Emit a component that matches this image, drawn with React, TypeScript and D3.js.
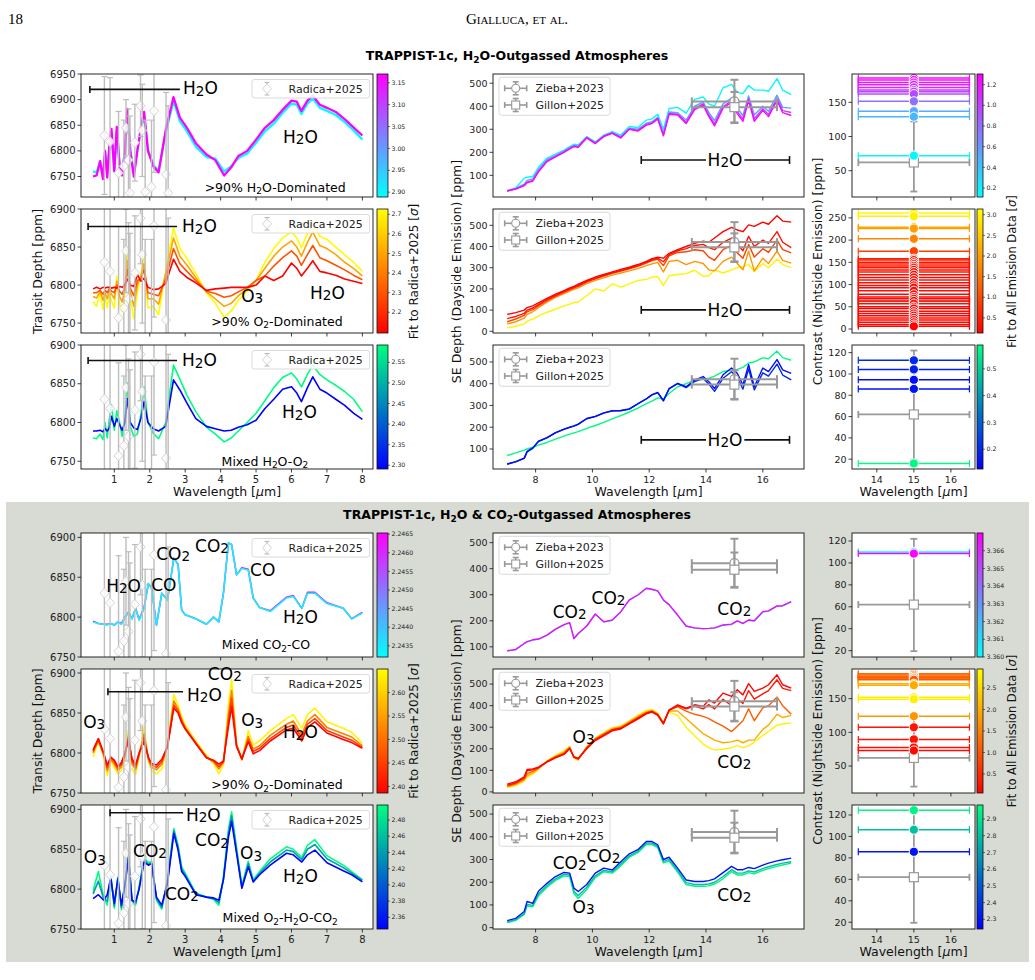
import React from 'react'
import * as d3 from 'd3'

// ---------- wavelength grids ----------
const transitWlTop = [0.40, 0.50, 0.60, 0.68, 0.74, 0.80, 0.86, 0.92, 1.00, 1.07, 1.15, 1.22, 1.30, 1.37, 1.45, 1.55, 1.65, 1.75, 1.84, 1.95, 2.10, 2.25, 2.45, 2.67, 2.85, 3.05, 3.30, 3.60, 3.85, 4.10, 4.30, 4.50, 4.75, 5.00, 5.25, 5.50, 5.75, 6.00, 6.15, 6.28, 6.45, 6.60, 6.80, 7.00, 7.25, 7.50, 7.75, 8.00]
const transitWlBot = [0.40, 0.55, 0.70, 0.80, 0.90, 1.00, 1.10, 1.20, 1.30, 1.40, 1.50, 1.60, 1.70, 1.84, 1.96, 2.05, 2.19, 2.34, 2.50, 2.68, 2.80, 2.90, 3.00, 3.30, 3.60, 3.80, 3.95, 4.08, 4.22, 4.31, 4.45, 4.60, 4.78, 4.92, 5.10, 5.40, 5.86, 6.05, 6.29, 6.45, 6.66, 7.00, 7.46, 7.70, 8.00]
const emissionWl = [7.0, 7.3, 7.6, 7.7, 7.9, 8.1, 8.4, 8.7, 9.0, 9.2, 9.35, 9.5, 9.8, 10.1, 10.4, 10.7, 11.0, 11.3, 11.6, 11.9, 12.1, 12.3, 12.5, 12.7, 13.0, 13.3, 13.6, 13.9, 14.1, 14.3, 14.6, 14.9, 15.1, 15.3, 15.5, 15.7, 16.0, 16.2, 16.5, 16.7, 17.0]

// ---------- observations ----------
const radicaWl = [0.72, 0.88, 1.12, 1.27, 1.33, 1.40, 1.44, 1.58, 1.74, 1.79, 1.87, 2.05, 2.12, 2.46, 2.52]
const radicaDepth = [6830, 6818, 6757, 6770, 6845, 6782, 6718, 6816, 6888, 6840, 6720, 6730, 6878, 6754, 6718]
const radicaErr = [115, 125, 120, 90, 55, 100, 150, 75, 60, 90, 140, 130, 120, 160, 170]

const eclipseLabels = ['Zieba+2023', 'Gillon+2025']
const eclipseWl = [15, 15]
const eclipseDepth = [421, 396]
const eclipseErr = [94, 66]
const eclipseWlErr = [1.5, 1.5]

const nightObsWl = 15
const nightObsContrast = 62
const nightObsErrLow = 42.5
const nightObsErrHigh = 60
const nightWlErr = 1.5

// ---------- top section: transit models ----------
const tH2oSigma = [2.89, 3.17]
const tH2oCyan = [6760, 6758, 6778, 6752, 6795, 6755, 6805, 6835, 6765, 6840, 6772, 6757, 6800, 6875, 6802, 6755, 6802, 6840, 6870, 6802, 6772, 6762, 6835, 6898, 6858, 6838, 6808, 6788, 6785, 6760, 6770, 6786, 6795, 6816, 6838, 6853, 6874, 6892, 6890, 6872, 6892, 6902, 6884, 6878, 6870, 6856, 6840, 6822]
const tH2oMagenta = [6750, 6752, 6780, 6745, 6800, 6748, 6810, 6843, 6760, 6847, 6770, 6752, 6800, 6882, 6800, 6750, 6800, 6845, 6876, 6800, 6770, 6758, 6840, 6905, 6865, 6845, 6815, 6793, 6782, 6752, 6768, 6790, 6800, 6822, 6845, 6860, 6880, 6898, 6896, 6878, 6898, 6908, 6890, 6884, 6876, 6862, 6846, 6830]

const tO2Sigma = [2.72, 2.50, 2.30, 2.10]
const tO2Yellow = [6778, 6772, 6790, 6768, 6785, 6770, 6790, 6779, 6770, 6812, 6775, 6765, 6790, 6847, 6785, 6756, 6790, 6815, 6836, 6770, 6772, 6761, 6820, 6875, 6848, 6835, 6815, 6790, 6776, 6758, 6766, 6780, 6792, 6806, 6830, 6848, 6862, 6870, 6862, 6849, 6868, 6884, 6864, 6860, 6850, 6840, 6830, 6818]
const tO2Orange = [6785, 6783, 6792, 6780, 6790, 6782, 6793, 6788, 6782, 6805, 6785, 6778, 6795, 6832, 6792, 6772, 6800, 6812, 6828, 6782, 6782, 6775, 6815, 6862, 6838, 6826, 6810, 6791, 6782, 6772, 6776, 6786, 6795, 6806, 6822, 6838, 6850, 6858, 6850, 6838, 6856, 6870, 6852, 6848, 6840, 6830, 6822, 6812]
const tO2RedOrange = [6790, 6790, 6793, 6788, 6793, 6790, 6795, 6792, 6790, 6800, 6792, 6788, 6797, 6820, 6796, 6786, 6806, 6808, 6820, 6790, 6788, 6786, 6808, 6848, 6828, 6818, 6806, 6792, 6789, 6784, 6786, 6791, 6797, 6806, 6812, 6825, 6836, 6845, 6838, 6826, 6840, 6852, 6836, 6832, 6826, 6820, 6813, 6807]
const tO2Red = [6795, 6797, 6795, 6797, 6796, 6797, 6797, 6796, 6797, 6796, 6798, 6797, 6800, 6808, 6800, 6798, 6814, 6805, 6809, 6797, 6794, 6795, 6802, 6834, 6818, 6810, 6803, 6793, 6795, 6796, 6797, 6797, 6797, 6800, 6812, 6806, 6812, 6829, 6822, 6812, 6822, 6832, 6818, 6816, 6813, 6808, 6805, 6802]

const tMixSigma = [2.59, 2.29]
const tMixGreen = [6780, 6779, 6785, 6778, 6800, 6780, 6805, 6823, 6790, 6815, 6800, 6782, 6805, 6851, 6795, 6782, 6785, 6810, 6846, 6800, 6786, 6779, 6800, 6874, 6856, 6835, 6814, 6794, 6785, 6775, 6780, 6789, 6800, 6812, 6828, 6845, 6858, 6864, 6856, 6846, 6862, 6874, 6862, 6855, 6848, 6840, 6830, 6814]
const tMixBlue = [6789, 6789, 6790, 6788, 6792, 6789, 6793, 6808, 6795, 6805, 6797, 6790, 6800, 6831, 6800, 6793, 6791, 6805, 6827, 6800, 6792, 6789, 6795, 6855, 6842, 6825, 6805, 6795, 6792, 6789, 6790, 6794, 6797, 6803, 6818, 6830, 6843, 6846, 6838, 6827, 6845, 6859, 6843, 6838, 6830, 6822, 6812, 6804]

// ---------- bottom section: transit models ----------
const bCoSigma = [2.2465, 2.2433]
const bCoMagenta = [6795, 6792, 6791, 6791, 6792, 6790, 6794, 6792, 6800, 6806, 6798, 6811, 6797, 6812, 6842, 6837, 6790, 6830, 6822, 6874, 6866, 6809, 6803, 6798, 6791, 6800, 6794, 6830, 6893, 6891, 6853, 6862, 6860, 6824, 6812, 6808, 6825, 6827, 6811, 6831, 6831, 6818, 6811, 6798, 6806]
const bCoCyan = [6794, 6792, 6791, 6790, 6792, 6790, 6794, 6791, 6800, 6805, 6798, 6811, 6796, 6811, 6842, 6836, 6790, 6830, 6821, 6874, 6866, 6809, 6803, 6798, 6791, 6800, 6794, 6830, 6893, 6891, 6853, 6861, 6859, 6824, 6812, 6807, 6824, 6826, 6811, 6830, 6830, 6817, 6811, 6798, 6805]

const bO2Sigma = [2.64, 2.52, 2.45, 2.39]
const bO2Yellow = [6795, 6814, 6795, 6772, 6790, 6782, 6774, 6778, 6795, 6829, 6780, 6773, 6795, 6833, 6790, 6778, 6774, 6780, 6810, 6873, 6860, 6846, 6835, 6815, 6797, 6787, 6774, 6785, 6860, 6892, 6812, 6791, 6828, 6810, 6815, 6828, 6843, 6848, 6831, 6848, 6856, 6839, 6831, 6826, 6812]
const bO2Orange = [6800, 6816, 6798, 6778, 6792, 6786, 6778, 6783, 6797, 6822, 6787, 6779, 6797, 6824, 6792, 6782, 6779, 6786, 6809, 6865, 6855, 6842, 6832, 6813, 6795, 6789, 6780, 6788, 6848, 6878, 6810, 6792, 6821, 6805, 6809, 6822, 6836, 6840, 6823, 6840, 6848, 6832, 6824, 6820, 6809]
const bO2RedOrange = [6802, 6817, 6799, 6782, 6794, 6789, 6781, 6786, 6799, 6819, 6790, 6782, 6799, 6819, 6794, 6785, 6782, 6789, 6808, 6860, 6852, 6840, 6831, 6812, 6794, 6790, 6783, 6789, 6840, 6868, 6809, 6792, 6817, 6802, 6806, 6818, 6832, 6835, 6819, 6836, 6843, 6828, 6820, 6816, 6807]
const bO2Red = [6804, 6818, 6800, 6785, 6795, 6791, 6783, 6788, 6800, 6816, 6793, 6785, 6800, 6814, 6795, 6787, 6785, 6792, 6808, 6856, 6850, 6838, 6830, 6812, 6794, 6791, 6786, 6790, 6833, 6858, 6808, 6793, 6814, 6799, 6803, 6815, 6829, 6831, 6815, 6832, 6839, 6825, 6817, 6813, 6806]

const bMixSigma = [2.50, 2.44, 2.35]
const bMixGreen = [6798, 6822, 6790, 6780, 6818, 6776, 6815, 6774, 6808, 6843, 6783, 6780, 6803, 6840, 6833, 6835, 6786, 6775, 6812, 6876, 6855, 6828, 6820, 6795, 6790, 6787, 6780, 6815, 6875, 6897, 6852, 6804, 6835, 6812, 6822, 6838, 6853, 6850, 6840, 6855, 6862, 6842, 6830, 6822, 6812]
const bMixTeal = [6794, 6810, 6788, 6785, 6816, 6779, 6814, 6777, 6806, 6841, 6785, 6782, 6801, 6837, 6831, 6833, 6788, 6777, 6810, 6873, 6852, 6825, 6818, 6794, 6790, 6788, 6783, 6813, 6870, 6892, 6848, 6803, 6832, 6810, 6820, 6834, 6849, 6847, 6837, 6850, 6856, 6838, 6827, 6820, 6811]
const bMixBlue = [6788, 6793, 6786, 6793, 6814, 6782, 6813, 6780, 6805, 6839, 6786, 6784, 6800, 6834, 6830, 6832, 6790, 6780, 6807, 6870, 6849, 6822, 6816, 6793, 6790, 6789, 6786, 6812, 6865, 6885, 6845, 6801, 6828, 6809, 6818, 6830, 6845, 6843, 6834, 6843, 6849, 6833, 6823, 6818, 6809]

// ---------- top section: dayside emission models ----------
const eH2oSigma = [0.15, 0.55, 1.0, 1.28]
const eH2oCyan = [33, 45, 88, 92, 95, 135, 175, 192, 210, 225, 235, 232, 268, 245, 275, 290, 275, 312, 308, 340, 345, 365, 300, 390, 395, 370, 430, 440, 410, 400, 480, 495, 460, 455, 490, 470, 470, 465, 520, 470, 450]
const eH2oBlue = [33, 43, 62, 78, 85, 125, 168, 186, 205, 220, 230, 226, 266, 242, 272, 286, 268, 305, 300, 326, 333, 352, 282, 375, 372, 340, 400, 418, 372, 338, 410, 436, 392, 360, 445, 362, 400, 378, 448, 395, 392]
const eH2oPurple = [32, 41, 57, 70, 78, 118, 163, 182, 202, 217, 227, 224, 264, 240, 270, 284, 265, 302, 295, 321, 328, 348, 276, 369, 366, 331, 391, 410, 362, 324, 399, 425, 377, 345, 433, 346, 389, 364, 434, 381, 373]
const eH2oMagenta = [32, 40, 55, 68, 75, 115, 160, 180, 200, 215, 225, 222, 262, 238, 268, 282, 262, 300, 292, 318, 325, 345, 272, 365, 362, 325, 385, 405, 355, 315, 392, 418, 368, 335, 425, 335, 382, 355, 425, 372, 360]

const eO2Sigma = [3.0, 1.9, 0.9, 0.35, 0.15]
const eO2Yellow = [16, 24, 35, 48, 58, 72, 90, 104, 120, 128, 136, 138, 168, 200, 190, 224, 208, 224, 240, 245, 256, 258, 216, 262, 268, 272, 288, 260, 262, 290, 275, 290, 300, 305, 315, 282, 320, 300, 340, 315, 300]
const eO2Orange = [35, 45, 62, 80, 92, 112, 138, 160, 178, 190, 198, 205, 225, 240, 252, 265, 275, 285, 296, 310, 318, 325, 280, 330, 335, 315, 330, 320, 290, 285, 330, 350, 320, 290, 378, 285, 345, 320, 378, 335, 322]
const eO2RedOrange = [45, 58, 75, 92, 102, 120, 145, 165, 184, 196, 204, 212, 232, 247, 260, 273, 284, 295, 306, 322, 334, 340, 310, 356, 372, 375, 385, 380, 350, 335, 385, 405, 370, 345, 410, 350, 390, 372, 430, 385, 370]
const eO2Red2 = [60, 70, 85, 100, 110, 126, 150, 170, 188, 200, 208, 216, 236, 250, 263, 276, 287, 298, 310, 326, 338, 345, 328, 362, 380, 390, 405, 410, 395, 385, 420, 440, 410, 380, 448, 400, 430, 415, 470, 420, 395]
const eO2Red = [80, 88, 100, 112, 120, 134, 155, 175, 192, 205, 212, 222, 240, 256, 268, 280, 292, 302, 315, 330, 343, 350, 345, 368, 385, 400, 415, 425, 420, 440, 470, 490, 478, 470, 502, 495, 515, 505, 545, 520, 515]

const eMixSigma = [0.58, 0.2, 0.15]
const eMixGreen = [70, 82, 95, 100, 108, 118, 130, 145, 159, 168, 174, 180, 195, 208, 222, 238, 253, 270, 288, 308, 320, 335, 330, 355, 386, 400, 417, 420, 425, 435, 456, 462, 466, 475, 495, 500, 519, 515, 550, 520, 508]
const eMixBlue2 = [30, 41, 57, 86, 103, 134, 151, 174, 190, 199, 205, 213, 239, 249, 265, 275, 276, 283, 307, 330, 349, 358, 321, 376, 400, 382, 410, 425, 398, 365, 425, 455, 430, 375, 468, 372, 450, 435, 490, 440, 418]
const eMixBlue = [31, 42, 58, 89, 105, 136, 152, 175, 191, 200, 206, 214, 240, 250, 266, 276, 277, 284, 308, 331, 350, 360, 323, 378, 402, 386, 417, 433, 409, 378, 441, 472, 448, 394, 488, 386, 472, 456, 511, 464, 448]

// ---------- bottom section: dayside emission models ----------
const fCoSigma = [3.3601, 3.3669]
const fCoCyan = [84, 89, 112, 119, 126, 129, 144, 167, 184, 192, 131, 150, 179, 225, 195, 202, 234, 279, 298, 324, 320, 314, 279, 261, 221, 179, 172, 169, 170, 172, 183, 186, 199, 189, 202, 199, 234, 237, 256, 257, 273]
const fCoMagenta = [85, 90, 113, 120, 127, 130, 145, 168, 185, 193, 132, 151, 180, 226, 196, 203, 235, 280, 299, 325, 321, 315, 280, 262, 222, 180, 173, 170, 171, 173, 184, 187, 200, 190, 203, 200, 235, 238, 257, 258, 274]

const fO2Sigma = [2.8, 2.0, 1.1, 0.3, 0.1]
const fO2Yellow = [20, 30, 50, 68, 82, 105, 145, 170, 190, 212, 158, 148, 210, 250, 275, 298, 306, 330, 355, 378, 382, 365, 322, 370, 355, 300, 260, 222, 205, 195, 198, 205, 215, 205, 215, 230, 262, 280, 310, 315, 320]
const fO2LightOrange = [24, 34, 55, 75, 88, 108, 142, 165, 185, 208, 158, 150, 208, 248, 272, 294, 302, 326, 350, 372, 378, 362, 320, 375, 375, 340, 305, 270, 255, 240, 228, 232, 240, 228, 240, 240, 290, 310, 360, 345, 355]
const fO2Orange = [28, 38, 60, 85, 95, 110, 140, 162, 180, 205, 160, 152, 205, 245, 268, 290, 298, 322, 345, 368, 375, 360, 318, 380, 395, 375, 360, 350, 340, 325, 305, 280, 305, 330, 385, 330, 390, 400, 440, 400, 360]
const fO2Red2 = [30, 42, 66, 98, 103, 112, 138, 158, 174, 200, 162, 154, 200, 238, 260, 283, 292, 315, 338, 362, 370, 355, 315, 378, 400, 385, 398, 385, 405, 385, 430, 400, 430, 410, 470, 430, 455, 470, 520, 480, 470]
const fO2Red = [36, 47, 70, 104, 107, 115, 140, 160, 175, 202, 163, 155, 202, 241, 264, 287, 295, 318, 342, 365, 373, 357, 318, 380, 404, 388, 404, 396, 427, 412, 458, 443, 474, 450, 502, 466, 481, 497, 543, 497, 481]

const fMixSigma = [2.95, 2.8, 2.3]
const fMixGreen = [22, 32, 58, 95, 92, 140, 178, 208, 228, 225, 150, 128, 168, 220, 246, 240, 272, 310, 330, 366, 366, 352, 285, 293, 245, 190, 182, 182, 184, 192, 215, 247, 232, 232, 242, 237, 252, 260, 270, 276, 284]
const fMixTeal = [25, 35, 62, 102, 98, 148, 185, 215, 235, 232, 160, 140, 178, 228, 252, 246, 280, 316, 336, 372, 372, 358, 292, 300, 252, 198, 190, 190, 192, 200, 225, 255, 240, 240, 250, 245, 260, 268, 278, 284, 290]
const fMixBlue = [31, 41, 71, 115, 107, 160, 195, 225, 243, 240, 174, 159, 190, 240, 262, 254, 290, 325, 343, 379, 379, 365, 300, 310, 262, 210, 203, 203, 207, 215, 242, 270, 255, 255, 265, 260, 275, 284, 294, 299, 306]

// ---------- nightside contrast models ----------
const nH2oPpm = [185.4, 182.5, 179, 175.7, 171.8, 168, 165.5, 162, 151.5, 137, 129, 72]
const nH2oSigma = [1.28, 1.25, 1.2, 1.15, 1.1, 1.05, 1.0, 0.95, 0.78, 0.5, 0.45, 0.15]
const nO2Ppm = [261, 253.6, 229, 226, 203, 175, 158, 155, 150, 146, 142, 138, 133, 128, 122, 116, 110, 104, 98, 93, 86, 78, 72, 68, 63, 57, 50, 46, 40, 35, 30, 25, 20, 15, 10, 6]
const nO2Sigma = [3.05, 2.95, 2.1, 2.0, 1.7, 0.9, 0.45, 0.4, 0.35, 0.5, 0.3, 0.4, 0.25, 0.35, 0.3, 0.2, 0.3, 0.25, 0.2, 0.15, 0.3, 0.2, 0.15, 0.25, 0.2, 0.3, 0.2, 0.15, 0.25, 0.2, 0.15, 0.3, 0.2, 0.25, 0.2, 0.15]
const nMixPpm = [112.8, 104.3, 94.5, 86, 16]
const nMixSigma = [0.2, 0.18, 0.15, 0.16, 0.58]

const mCoPpm = [110, 108.5]
const mCoSigma = [3.3601, 3.3669]
const mO2Ppm = [187, 185, 183, 181, 180, 178, 172, 170, 152, 149, 124, 107.5, 89.5, 77.5, 73]
const mO2Sigma = [1.25, 1.15, 1.2, 1.1, 1.3, 1.05, 2.05, 2.0, 2.75, 2.8, 1.75, 0.3, 0.25, 0.2, 0.15]
const mMixPpm = [124.4, 106.3, 85.7]
const mMixSigma = [2.95, 2.8, 2.3]

// ---------- colour bar ticks ----------
const cbT1 = [2.90, 2.95, 3.00, 3.05, 3.10, 3.15]
const cbT2 = [2.2, 2.3, 2.4, 2.5, 2.6, 2.7]
const cbT3 = [2.30, 2.35, 2.40, 2.45, 2.50, 2.55]
const cbN1 = [0.2, 0.4, 0.6, 0.8, 1.0, 1.2]
const cbN2 = [0.5, 1.0, 1.5, 2.0, 2.5, 3.0]
const cbN3 = [0.2, 0.3, 0.4, 0.5]
const cbB1 = [2.2435, 2.2440, 2.2445, 2.2450, 2.2455, 2.2460, 2.2465]
const cbB2 = [2.40, 2.45, 2.50, 2.55, 2.60]
const cbB3 = [2.36, 2.38, 2.40, 2.42, 2.44, 2.46, 2.48]
const cbM1 = [3.360, 3.361, 3.362, 3.363, 3.364, 3.365, 3.366]
const cbM2 = [0.5, 1.0, 1.5, 2.0, 2.5]
const cbM3 = [2.3, 2.4, 2.5, 2.6, 2.7, 2.8, 2.9]

// ---------- layout ----------
const C1 = { x0: 81, x1: 373 }
const CB1 = { x0: 377, x1: 388 }
const C2 = { x0: 493, x1: 804 }
const C3 = { x0: 852, x1: 975 }
const CB3 = { x0: 977, x1: 983 }
const topRows = [[74, 197], [209, 333], [345, 469]]
const botRows = [[533, 657], [669, 793], [805, 929]]

const cool = (t: number) => d3.rgb(255 * t, 255 * (1 - t), 255).toString()
const autumn = (t: number) => d3.rgb(255, 255 * t, 0).toString()
const winter = (t: number) => d3.rgb(0, 255 * t, 255 * (1 - 0.5 * t)).toString()

const GREY = '#999'
const LIGHT = '#bdbdbd'

function Chem({ text, x, y, size, anchor = 'start', weight = 400, shift = 0.2, scale = 0.72 }: any) {
  const parts = text.split(/(_[0-9])/).filter((s: string) => s.length > 0)
  let down = false
  const spans = parts.map((p: string, i: number) => {
    if (p[0] === '_') {
      down = true
      return <tspan key={i} fontSize={size * scale} dy={size * shift}>{p.slice(1)}</tspan>
    }
    const dy = down ? -size * shift : 0
    down = false
    return <tspan key={i} dy={dy}>{p}</tspan>
  })
  return (
    <text x={x} y={y + size * 0.35} fontSize={size} textAnchor={anchor} fontWeight={weight}>
      {spans}
    </text>
  )
}

function Axes({ id, x0, x1, y0, y1, xs, ys, xTicks, yTicks, showX, fs, children }: any) {
  return (
    <g>
      <rect x={x0} y={y0} width={x1 - x0} height={y1 - y0} fill="#fff" />
      <clipPath id={id}>
        <rect x={x0} y={y0} width={x1 - x0} height={y1 - y0} />
      </clipPath>
      <g clipPath={`url(#${id})`}>{children}</g>
      <rect x={x0} y={y0} width={x1 - x0} height={y1 - y0} fill="none" stroke="#111" strokeWidth={0.9} />
      {yTicks.map((t: number) => (
        <g key={'y' + t}>
          <line x1={x0 - 3.5} x2={x0} y1={ys(t)} y2={ys(t)} stroke="#111" strokeWidth={0.8} />
          <text x={x0 - 5.5} y={ys(t)} dy="0.35em" textAnchor="end" fontSize={fs} fill="#222">{t}</text>
        </g>
      ))}
      {xTicks.map((t: number) => (
        <g key={'x' + t}>
          <line x1={xs(t)} x2={xs(t)} y1={y1} y2={y1 + 3.5} stroke="#111" strokeWidth={0.8} />
          {showX && <text x={xs(t)} y={y1 + 6} dy="0.8em" textAnchor="middle" fontSize={fs} fill="#222">{t}</text>}
        </g>
      ))}
    </g>
  )
}

function Colorbar({ id, x0, x1, y0, y1, domain, ticks, digits, cmap }: any) {
  const ys = d3.scaleLinear().domain(domain).range([y1, y0])
  const stops = d3.range(0, 11).map(i => i / 10)
  return (
    <g>
      <linearGradient id={id} x1="0" y1="1" x2="0" y2="0">
        {stops.map(s => <stop key={s} offset={s} stopColor={cmap(s)} />)}
      </linearGradient>
      <rect x={x0} y={y0} width={x1 - x0} height={y1 - y0} fill={`url(#${id})`} stroke="#111" strokeWidth={0.8} />
      {ticks.map((t: number) => (
        <g key={t}>
          <line x1={x1} x2={x1 + 2} y1={ys(t)} y2={ys(t)} stroke="#111" strokeWidth={0.6} />
          <text x={x1 + 3.5} y={ys(t)} dy="0.35em" fontSize={6.2} fill="#222">{t.toFixed(digits)}</text>
        </g>
      ))}
    </g>
  )
}

function TransitPanel({ id, rows, yDomain, yTicks, wl, series, sigmas, cmap, cb, cbTicks, cbDigits, showX, labels, bar, caption, lw = 1.6 }: any) {
  const [y0, y1] = rows
  const xs = d3.scaleLinear().domain([0.06, 8.3]).range([C1.x0, C1.x1])
  const ys = d3.scaleLinear().domain(yDomain).range([y1, y0])
  const cn = d3.scaleLinear().domain(cb).range([0, 1]).clamp(true)
  const line = d3.line<number>().x((_, i) => xs(wl[i])).y(v => ys(v))
  const lx = C1.x1 - 121
  const ly = y0 + 5.5
  return (
    <g>
      <Axes id={id} x0={C1.x0} x1={C1.x1} y0={y0} y1={y1} xs={xs} ys={ys} xTicks={d3.range(1, 9)} yTicks={yTicks} showX={showX} fs={10}>
        {series.map((s: number[], i: number) => (
          <path key={i} d={line(s) || ''} fill="none" stroke={cmap(cn(sigmas[i]))} strokeWidth={lw} strokeLinejoin="round" />
        ))}
        {radicaWl.map((w, i) => {
          const cx = xs(w)
          const top = ys(radicaDepth[i] + radicaErr[i])
          const bot = ys(radicaDepth[i] - radicaErr[i])
          const cy = ys(radicaDepth[i])
          return (
            <g key={'r' + i}>
              <line x1={cx} x2={cx} y1={top} y2={bot} stroke={LIGHT} strokeWidth={1.4} />
              <line x1={cx - 3} x2={cx + 3} y1={top} y2={top} stroke={LIGHT} strokeWidth={1.2} />
              <line x1={cx - 3} x2={cx + 3} y1={bot} y2={bot} stroke={LIGHT} strokeWidth={1.2} />
              <path d={`M${cx},${cy - 5}L${cx + 4.5},${cy}L${cx},${cy + 5}L${cx - 4.5},${cy}Z`} fill="#fff" fillOpacity={0.85} stroke="#d4d4d4" strokeWidth={1} />
            </g>
          )
        })}
      </Axes>
      {bar && (
        <g stroke="#111" strokeWidth={1.6}>
          <line x1={xs(bar[0])} x2={xs(bar[1])} y1={ys(bar[2])} y2={ys(bar[2])} />
          <line x1={xs(bar[0])} x2={xs(bar[0])} y1={ys(bar[2]) - 3.5} y2={ys(bar[2]) + 3.5} />
        </g>
      )}
      {labels.map((l: any, i: number) => (
        <Chem key={i} text={l[2]} x={xs(l[0])} y={ys(l[1])} size={17} shift={0.08} scale={0.8} />
      ))}
      <Chem text={caption[2]} x={xs(caption[0])} y={ys(caption[1])} size={12.5} anchor="middle" />
      <rect x={lx} y={ly} width={117.6} height={18.5} rx={2.5} fill="#fff" fillOpacity={0.85} stroke="#d0d0d0" strokeWidth={0.8} />
      <g>
        <line x1={lx + 15} x2={lx + 15} y1={ly + 3} y2={ly + 15.5} stroke={LIGHT} strokeWidth={1.3} />
        <line x1={lx + 12.5} x2={lx + 17.5} y1={ly + 3} y2={ly + 3} stroke={LIGHT} strokeWidth={1.1} />
        <line x1={lx + 12.5} x2={lx + 17.5} y1={ly + 15.5} y2={ly + 15.5} stroke={LIGHT} strokeWidth={1.1} />
        <path d={`M${lx + 15},${ly + 4.3}L${lx + 19.5},${ly + 9.3}L${lx + 15},${ly + 14.3}L${lx + 10.5},${ly + 9.3}Z`} fill="#fff" stroke="#d4d4d4" strokeWidth={1} />
        <text x={lx + 36.5} y={ly + 9.3} dy="0.35em" fontSize={11} fill="#222">Radica+2025</text>
      </g>
      <Colorbar id={id + 'cb'} x0={CB1.x0} x1={CB1.x1} y0={y0} y1={y1} domain={cb} ticks={cbTicks} digits={cbDigits} cmap={cmap} />
    </g>
  )
}

function EmissionPanel({ id, rows, yDomain, yTicks, series, sigmas, cmap, cb, showX, labels, h2oBar }: any) {
  const [y0, y1] = rows
  const xs = d3.scaleLinear().domain([6.5, 17.45]).range([C2.x0, C2.x1])
  const ys = d3.scaleLinear().domain(yDomain).range([y1, y0])
  const cn = d3.scaleLinear().domain(cb).range([0, 1]).clamp(true)
  const line = d3.line<number>().x((_, i) => xs(emissionWl[i])).y(v => ys(v))
  const lx = C2.x0 + 6
  const ly = y0 + 3.3
  return (
    <g>
      <Axes id={id} x0={C2.x0} x1={C2.x1} y0={y0} y1={y1} xs={xs} ys={ys} xTicks={[8, 10, 12, 14, 16]} yTicks={yTicks} showX={showX} fs={9.5}>
        {series.map((s: number[], i: number) => (
          <path key={i} d={line(s) || ''} fill="none" stroke={cmap(cn(sigmas[i]))} strokeWidth={1.4} strokeLinejoin="round" />
        ))}
        {eclipseWl.map((w, i) => {
          const cx = xs(w)
          const cy = ys(eclipseDepth[i])
          const xa = xs(w - eclipseWlErr[i])
          const xb = xs(w + eclipseWlErr[i])
          const ya = ys(eclipseDepth[i] + eclipseErr[i])
          const yb = ys(eclipseDepth[i] - eclipseErr[i])
          return (
            <g key={'e' + i} stroke={GREY} strokeWidth={2}>
              <line x1={xa} x2={xb} y1={cy} y2={cy} />
              <line x1={xa} x2={xa} y1={cy - 4} y2={cy + 4} />
              <line x1={xb} x2={xb} y1={cy - 4} y2={cy + 4} />
              <line x1={cx} x2={cx} y1={ya} y2={yb} />
              <line x1={cx - 4} x2={cx + 4} y1={ya} y2={ya} />
              <line x1={cx - 4} x2={cx + 4} y1={yb} y2={yb} />
              {i === 0
                ? <circle cx={cx} cy={cy} r={4.5} fill="#fff" strokeWidth={1.2} />
                : <rect x={cx - 4.5} y={cy - 4.5} width={9} height={9} fill="#fff" strokeWidth={1.2} />}
            </g>
          )
        })}
      </Axes>
      {h2oBar && (
        <g>
          <g stroke="#111" strokeWidth={1.6}>
            <line x1={xs(11.72)} x2={xs(14.0)} y1={ys(h2oBar)} y2={ys(h2oBar)} />
            <line x1={xs(15.35)} x2={xs(16.94)} y1={ys(h2oBar)} y2={ys(h2oBar)} />
            <line x1={xs(11.72)} x2={xs(11.72)} y1={ys(h2oBar) - 4} y2={ys(h2oBar) + 4} />
            <line x1={xs(16.94)} x2={xs(16.94)} y1={ys(h2oBar) - 4} y2={ys(h2oBar) + 4} />
          </g>
          <Chem text="H_2O" x={xs(14.67)} y={ys(h2oBar)} size={17} anchor="middle" shift={0.08} scale={0.8} />
        </g>
      )}
      {labels.map((l: any, i: number) => (
        <Chem key={i} text={l[2]} x={xs(l[0])} y={ys(l[1])} size={17} shift={0.08} scale={0.8} />
      ))}
      <rect x={lx} y={ly} width={111} height={38} rx={2.5} fill="#fff" fillOpacity={0.85} stroke="#d0d0d0" strokeWidth={0.8} />
      {eclipseLabels.map((lab, i) => {
        const cy = ly + 11 + i * 16.7
        const cx = lx + 16.7
        return (
          <g key={lab}>
            <g stroke={GREY} strokeWidth={1.6}>
              <line x1={cx - 11} x2={cx + 11} y1={cy} y2={cy} />
              <line x1={cx - 11} x2={cx - 11} y1={cy - 3} y2={cy + 3} />
              <line x1={cx + 11} x2={cx + 11} y1={cy - 3} y2={cy + 3} />
              <line x1={cx} x2={cx} y1={cy - 6.5} y2={cy + 6.5} />
              <line x1={cx - 3} x2={cx + 3} y1={cy - 6.5} y2={cy - 6.5} />
              <line x1={cx - 3} x2={cx + 3} y1={cy + 6.5} y2={cy + 6.5} />
              {i === 0
                ? <circle cx={cx} cy={cy} r={4} fill="#fff" strokeWidth={1.1} />
                : <rect x={cx - 4} y={cy - 4} width={8} height={8} fill="#fff" strokeWidth={1.1} />}
            </g>
            <text x={lx + 36.5} y={cy} dy="0.35em" fontSize={11} fill="#222">{lab}</text>
          </g>
        )
      })}
    </g>
  )
}

function NightPanel({ id, rows, yDomain, yTicks, ppm, sigmas, cmap, cb, cbTicks, cbDigits, showX }: any) {
  const [y0, y1] = rows
  const xs = d3.scaleLinear().domain([13.33, 16.65]).range([C3.x0, C3.x1])
  const ys = d3.scaleLinear().domain(yDomain).range([y1, y0])
  const cn = d3.scaleLinear().domain(cb).range([0, 1]).clamp(true)
  const xa = xs(nightObsWl - nightWlErr)
  const xb = xs(nightObsWl + nightWlErr)
  const cx = xs(nightObsWl)
  const oy = ys(nightObsContrast)
  const oTop = ys(nightObsContrast + nightObsErrHigh)
  const oBot = ys(nightObsContrast - nightObsErrLow)
  return (
    <g>
      <Axes id={id} x0={C3.x0} x1={C3.x1} y0={y0} y1={y1} xs={xs} ys={ys} xTicks={[14, 15, 16]} yTicks={yTicks} showX={showX} fs={9.5}>
        <g stroke={GREY} strokeWidth={1.8}>
          <line x1={xa} x2={xb} y1={oy} y2={oy} />
          <line x1={xa} x2={xa} y1={oy - 3.5} y2={oy + 3.5} />
          <line x1={xb} x2={xb} y1={oy - 3.5} y2={oy + 3.5} />
          <line x1={cx} x2={cx} y1={oTop} y2={oBot} />
          <line x1={cx - 3.5} x2={cx + 3.5} y1={oTop} y2={oTop} />
          <line x1={cx - 3.5} x2={cx + 3.5} y1={oBot} y2={oBot} />
          <rect x={cx - 4.5} y={oy - 4.5} width={9} height={9} fill="#fff" strokeWidth={1.2} />
        </g>
        {ppm.map((v: number, i: number) => {
          const c = cmap(cn(sigmas[i]))
          const y = ys(v)
          return (
            <g key={i}>
              <line x1={xa} x2={xb} y1={y} y2={y} stroke={c} strokeWidth={1.5} />
              <line x1={xa} x2={xa} y1={y - 3.5} y2={y + 3.5} stroke={c} strokeWidth={1.2} />
              <line x1={xb} x2={xb} y1={y - 3.5} y2={y + 3.5} stroke={c} strokeWidth={1.2} />
              <circle cx={cx} cy={y} r={4.6} fill={c} stroke="#fff" strokeWidth={1} />
            </g>
          )
        })}
      </Axes>
      <Colorbar id={id + 'cb'} x0={CB3.x0} x1={CB3.x1} y0={y0} y1={y1} domain={cb} ticks={cbTicks} digits={cbDigits} cmap={cmap} />
    </g>
  )
}

function Labels({ rows, bottomY }: any) {
  const mid = (rows[0][0] + rows[2][1]) / 2
  const rot = (x: number, txt: any, fs: number) => (
    <text transform={`translate(${x},${mid}) rotate(-90)`} textAnchor="middle" dy="0.35em" fontSize={fs} fill="#111">{txt}</text>
  )
  return (
    <g>
      {rot(38, 'Transit Depth [ppm]', 12.5)}
      {rot(414, <>Fit to Radica+2025 [<tspan fontStyle="italic">σ</tspan>]</>, 12)}
      {rot(457, 'SE Depth (Dayside Emission) [ppm]', 12.5)}
      {rot(818, 'Contrast (Nightside Emission) [ppm]', 12.5)}
      {rot(1012, <>Fit to All Emission Data [<tspan fontStyle="italic">σ</tspan>]</>, 11.5)}
      {[(C1.x0 + C1.x1) / 2, (C2.x0 + C2.x1) / 2, (C3.x0 + C3.x1) / 2].map(x => (
        <text key={x} x={x} y={bottomY} dy="0.35em" textAnchor="middle" fontSize={12.5} fill="#111">
          Wavelength [<tspan fontStyle="italic">μ</tspan>m]
        </text>
      ))}
    </g>
  )
}

export default function App() {
  return (
    <svg width={1035} height={980} style={{ position: 'absolute', left: 0, top: 0, background: '#fff' }} fontFamily="DejaVu Sans">
      <rect width={1035} height={980} fill="#fff" />
      <text x={8} y={24} fontSize={15} fontFamily="Liberation Serif">18</text>
      <text x={517} y={24} fontSize={15} fontFamily="Liberation Serif" textAnchor="middle" style={{ fontVariant: 'small-caps' }}>Gialluca, et al.</text>
      <rect x={6} y={502} width={1023} height={460} fill="#d7dbd4" />

      <Chem text="TRAPPIST-1c, H_2O-Outgassed Atmospheres" x={517} y={56} size={12.5} anchor="middle" weight={700} />
      <Chem text="TRAPPIST-1c, H_2O & CO_2-Outgassed Atmospheres" x={517} y={515} size={12.5} anchor="middle" weight={700} />

      {/* top section */}
      <TransitPanel id="t1" rows={topRows[0]} yDomain={[6710, 6950]} yTicks={[6750, 6800, 6850, 6900, 6950]} wl={transitWlTop}
        series={[tH2oCyan, tH2oMagenta]} sigmas={tH2oSigma} cmap={cool} cb={[2.889, 3.17]} cbTicks={cbT1} cbDigits={2} showX={false} lw={2.3}
        labels={[[2.94, 6922, 'H_2O'], [5.76, 6827, 'H_2O']]} bar={[0.31, 2.85, 6920]} caption={[5.54, 6729, '>90% H_2O-Dominated']} />
      <TransitPanel id="t2" rows={topRows[1]} yDomain={[6737, 6900]} yTicks={[6750, 6800, 6850, 6900]} wl={transitWlTop}
        series={[tO2Yellow, tO2Orange, tO2RedOrange, tO2Red]} sigmas={tO2Sigma} cmap={autumn} cb={[2.094, 2.727]} cbTicks={cbT2} cbDigits={1} showX={false}
        labels={[[2.91, 6877, 'H_2O'], [4.58, 6786, 'O_3'], [6.52, 6790, 'H_2O']]} bar={[0.26, 2.77, 6877]} caption={[5.59, 6752, '>90% O_2-Dominated']} />
      <TransitPanel id="t3" rows={topRows[2]} yDomain={[6740, 6900]} yTicks={[6750, 6800, 6850, 6900]} wl={transitWlTop}
        series={[tMixGreen, tMixBlue]} sigmas={tMixSigma} cmap={winter} cb={[2.291, 2.592]} cbTicks={cbT3} cbDigits={2} showX={true}
        labels={[[2.91, 6880, 'H_2O'], [5.73, 6813, 'H_2O']]} bar={[0.26, 2.77, 6880]} caption={[5.25, 6750, 'Mixed H_2O-O_2']} />

      <EmissionPanel id="e1" rows={topRows[0]} yDomain={[6, 540]} yTicks={[100, 200, 300, 400, 500]}
        series={[eH2oCyan, eH2oBlue, eH2oPurple, eH2oMagenta]} sigmas={eH2oSigma} cmap={cool} cb={[0.113, 1.303]} showX={false} labels={[]} h2oBar={166.5} />
      <EmissionPanel id="e2" rows={topRows[1]} yDomain={[-8, 577]} yTicks={[0, 100, 200, 300, 400, 500]}
        series={[eO2Yellow, eO2Orange, eO2RedOrange, eO2Red2, eO2Red]} sigmas={eO2Sigma} cmap={autumn} cb={[0.135, 3.138]} showX={false} labels={[]} h2oBar={101} />
      <EmissionPanel id="e3" rows={topRows[2]} yDomain={[8, 578]} yTicks={[100, 200, 300, 400, 500]}
        series={[eMixGreen, eMixBlue2, eMixBlue]} sigmas={eMixSigma} cmap={winter} cb={[0.126, 0.589]} showX={true} labels={[]} h2oBar={142} />

      <NightPanel id="n1" rows={topRows[0]} yDomain={[11.5, 191.4]} yTicks={[50, 100, 150]} ppm={nH2oPpm} sigmas={nH2oSigma}
        cmap={cool} cb={[0.113, 1.303]} cbTicks={cbN1} cbDigits={1} showX={false} />
      <NightPanel id="n2" rows={topRows[1]} yDomain={[-9, 270]} yTicks={[0, 50, 100, 150, 200, 250]} ppm={nO2Ppm} sigmas={nO2Sigma}
        cmap={autumn} cb={[0.135, 3.138]} cbTicks={cbN2} cbDigits={1} showX={false} />
      <NightPanel id="n3" rows={topRows[2]} yDomain={[10.8, 127.2]} yTicks={[20, 40, 60, 80, 100, 120]} ppm={nMixPpm} sigmas={nMixSigma}
        cmap={winter} cb={[0.126, 0.589]} cbTicks={cbN3} cbDigits={1} showX={true} />

      <Labels rows={topRows} bottomY={492} />

      {/* bottom section */}
      <TransitPanel id="b1" rows={botRows[0]} yDomain={[6750, 6905.5]} yTicks={[6750, 6800, 6850, 6900]} wl={transitWlBot}
        series={[bCoMagenta, bCoCyan]} sigmas={bCoSigma} cmap={cool} cb={[2.2432, 2.24653]} cbTicks={cbB1} cbDigits={4} showX={false}
        labels={[[0.77, 6839, 'H_2O'], [2.04, 6840, 'CO'], [2.18, 6879, 'CO_2'], [3.28, 6889, 'CO_2'], [4.83, 6859, 'CO'], [5.76, 6800, 'H_2O']]}
        bar={null} caption={[5.28, 6765, 'Mixed CO_2-CO']} />
      <TransitPanel id="b2" rows={botRows[1]} yDomain={[6750, 6905]} yTicks={[6750, 6800, 6850, 6900]} wl={transitWlBot}
        series={[bO2Yellow, bO2Orange, bO2RedOrange, bO2Red]} sigmas={bO2Sigma} cmap={autumn} cb={[2.386, 2.65]} cbTicks={cbB2} cbDigits={2} showX={false}
        labels={[[3.05, 6873, 'H_2O'], [3.64, 6899, 'CO_2'], [0.12, 6839, 'O_3'], [4.58, 6841, 'O_3'], [5.76, 6826, 'H_2O']]}
        bar={[0.82, 2.94, 6876.5]} caption={[5.59, 6760, '>90% O_2-Dominated']} />
      <TransitPanel id="b3" rows={botRows[2]} yDomain={[6750, 6905.5]} yTicks={[6750, 6800, 6850, 6900]} wl={transitWlBot}
        series={[bMixGreen, bMixTeal, bMixBlue]} sigmas={bMixSigma} cmap={winter} cb={[2.3456, 2.4985]} cbTicks={cbB3} cbDigits={2} showX={true}
        labels={[[3.02, 6893, 'H_2O'], [0.14, 6840, 'O_3'], [1.53, 6848, 'CO_2'], [2.43, 6794, 'CO_2'], [3.28, 6861, 'CO_2'], [4.55, 6845, 'O_3'], [5.76, 6816, 'H_2O']]}
        bar={[0.88, 2.94, 6895.8]} caption={[5.68, 6764, 'Mixed O_2-H_2O-CO_2']} />

      <EmissionPanel id="f1" rows={botRows[0]} yDomain={[61, 537]} yTicks={[100, 200, 300, 400, 500]}
        series={[fCoCyan, fCoMagenta]} sigmas={fCoSigma} cmap={cool} cb={[3.36, 3.367]} showX={false}
        labels={[[8.6, 233.6, 'CO_2'], [9.97, 287.6, 'CO_2'], [14.4, 245, 'CO_2']]} h2oBar={null} />
      <EmissionPanel id="f2" rows={botRows[1]} yDomain={[-5, 570]} yTicks={[0, 100, 200, 300, 400, 500]}
        series={[fO2Yellow, fO2LightOrange, fO2Orange, fO2Red2, fO2Red]} sigmas={fO2Sigma} cmap={autumn} cb={[0.058, 2.942]} showX={false}
        labels={[[9.3, 254.5, 'O_3'], [14.4, 138, 'CO_2']]} h2oBar={null} />
      <EmissionPanel id="f3" rows={botRows[2]} yDomain={[-6, 540]} yTicks={[0, 100, 200, 300, 400, 500]}
        series={[fMixGreen, fMixTeal, fMixBlue]} sigmas={fMixSigma} cmap={winter} cb={[2.242, 2.984]} showX={true}
        labels={[[8.6, 285, 'CO_2'], [9.79, 316, 'CO_2'], [9.3, 91, 'O_3'], [14.4, 144, 'CO_2']]} h2oBar={null} />

      <NightPanel id="m1" rows={botRows[0]} yDomain={[14.2, 127.3]} yTicks={[20, 40, 60, 80, 100, 120]} ppm={mCoPpm} sigmas={mCoSigma}
        cmap={cool} cb={[3.36, 3.367]} cbTicks={cbM1} cbDigits={3} showX={false} />
      <NightPanel id="m2" rows={botRows[1]} yDomain={[10, 194]} yTicks={[50, 100, 150]} ppm={mO2Ppm} sigmas={mO2Sigma}
        cmap={autumn} cb={[0.058, 2.942]} cbTicks={cbM2} cbDigits={1} showX={false} />
      <NightPanel id="m3" rows={botRows[2]} yDomain={[13.7, 129.3]} yTicks={[20, 40, 60, 80, 100, 120]} ppm={mMixPpm} sigmas={mMixSigma}
        cmap={winter} cb={[2.242, 2.984]} cbTicks={cbM3} cbDigits={1} showX={true} />

      <Labels rows={botRows} bottomY={952} />
    </svg>
  )
}
